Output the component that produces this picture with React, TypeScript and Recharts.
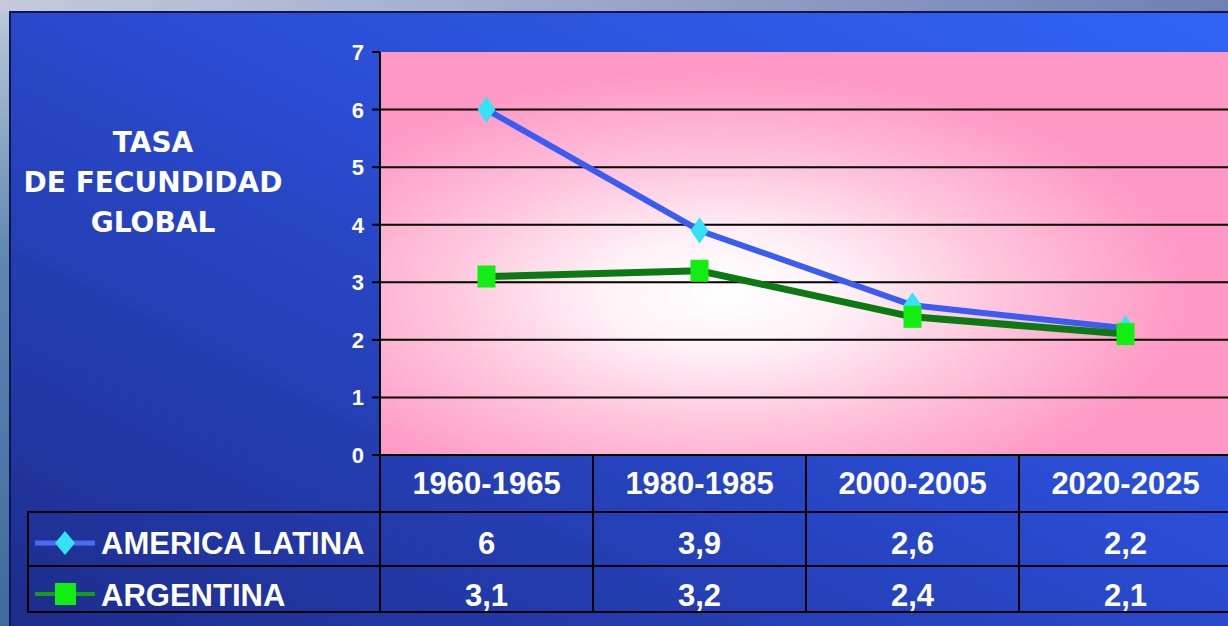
import React from "react";
import {
  LineChart,
  Line,
  XAxis,
  YAxis,
  CartesianGrid,
} from "recharts";

const periods = ["1960-1965", "1980-1985", "2000-2005", "2020-2025"];
const americaLatina = [6, 3.9, 2.6, 2.2];
const argentina = [3.1, 3.2, 2.4, 2.1];
const yTicks = [0, 1, 2, 3, 4, 5, 6, 7];
const gridValues = [1, 2, 3, 4, 5, 6];
const titleLines = ["TASA", "DE FECUNDIDAD", "GLOBAL"];
const seriesNames = ["AMERICA LATINA", "ARGENTINA"];

const data = periods.map((p, i) => ({
  period: p,
  al: americaLatina[i],
  ar: argentina[i],
}));

const W = 1228;
const H = 626;
const CHART_W = 1240;
const MARGIN = { top: 52, right: 8, bottom: 0, left: 0 };
const Y_AXIS_W = 380;
const X_AXIS_H = 171;
const PLOT_W = CHART_W - MARGIN.left - MARGIN.right - Y_AXIS_W;
const BAND = PLOT_W / periods.length;

const FONT = '"Liberation Sans", Arial, sans-serif';
const TITLE_FONT = '"DejaVu Sans", Verdana, sans-serif';
const fmt = (v: number) => String(v).replace(".", ",");

const YTick = (props: any) => {
  const { x, y, payload } = props;
  return (
    <text
      x={x - 6}
      y={y + 8}
      textAnchor="end"
      fill="#ffffff"
      fontSize={22}
      fontWeight="bold"
      fontFamily={FONT}
    >
      {payload.value}
    </text>
  );
};

const cellText = {
  textAnchor: "middle" as const,
  fill: "#ffffff",
  fontSize: 31,
  fontWeight: "bold",
  fontFamily: FONT,
};

const CategoryTick = (props: any) => {
  const { x, y, payload, index } = props;
  return (
    <g>
      <text x={x} y={y + 39} {...cellText}>
        {payload.value}
      </text>
      <text x={x} y={y + 99} {...cellText}>
        {fmt(americaLatina[index])}
      </text>
      <text x={x} y={y + 151} {...cellText}>
        {fmt(argentina[index])}
      </text>
      <line
        x1={x + BAND / 2}
        x2={x + BAND / 2}
        y1={y}
        y2={y + 157}
        stroke="#000000"
        strokeWidth={2}
      />
    </g>
  );
};

const Diamond = (props: any) => {
  const { cx, cy } = props;
  if (cx == null || cy == null) return null;
  return (
    <polygon
      points={`${cx},${cy - 13} ${cx + 9},${cy} ${cx},${cy + 13} ${cx - 9},${cy}`}
      fill="#33e3f3"
    />
  );
};

const Square = (props: any) => {
  const { cx, cy } = props;
  if (cx == null || cy == null) return null;
  return <rect x={cx - 9} y={cy - 11} width={18} height={22} fill="#12ee12" />;
};

export default function App() {
  return (
    <div
      style={{
        position: "absolute",
        left: 0,
        top: 0,
        width: W,
        height: H,
        overflow: "hidden",
        background: "linear-gradient(to right, #c4cadb 0%, #9aa6c8 50%, #6e7fb2 100%)",
      }}
    >
      <div
        style={{
          position: "absolute",
          left: 0,
          top: 12,
          width: 10,
          height: H,
          background: "linear-gradient(to bottom, #b8c8d8, #5f86b0 40%, #3d6a9c 100%)",
        }}
      />
      <div
        style={{
          position: "absolute",
          left: 9,
          top: 11,
          width: W + 20,
          height: H + 20,
          boxSizing: "border-box",
          border: "2px solid #0e1658",
          background: "linear-gradient(to bottom left, #3164f6 0%, #2a4cd2 45%, #1c2b88 100%)",
        }}
      />
      <div style={{ position: "absolute", left: 0, top: 0 }}>
        <LineChart width={CHART_W} height={H} data={data} margin={MARGIN}>
          <defs>
            <radialGradient id="plotBg" cx="0.4" cy="0.6" r="0.55">
              <stop offset="0%" stopColor="#ffffff" />
              <stop offset="25%" stopColor="#fff2f7" />
              <stop offset="60%" stopColor="#ffc4dc" />
              <stop offset="100%" stopColor="#ff98c5" />
            </radialGradient>
          </defs>
          <CartesianGrid
            vertical={false}
            horizontalValues={gridValues}
            stroke="#000000"
            strokeWidth={2}
            strokeOpacity={1}
            fill="url(#plotBg)"
            fillOpacity={1}
          />
          <XAxis
            dataKey="period"
            height={X_AXIS_H}
            padding={{ left: BAND / 2, right: BAND / 2 }}
            axisLine={{ stroke: "#000000", strokeWidth: 2 }}
            tickLine={false}
            tickSize={0}
            tickMargin={0}
            interval={0}
            tick={<CategoryTick />}
          />
          <YAxis
            width={Y_AXIS_W}
            domain={[0, 7]}
            ticks={yTicks}
            interval={0}
            axisLine={{ stroke: "#000000", strokeWidth: 2 }}
            tickLine={{ stroke: "#000000", strokeWidth: 2 }}
            tickSize={8}
            tickMargin={2}
            tick={<YTick />}
          />
          <Line
            dataKey="al"
            stroke="#3b5cf2"
            strokeWidth={6}
            dot={<Diamond />}
            isAnimationActive={false}
          />
          <Line
            dataKey="ar"
            stroke="#0b7a12"
            strokeWidth={7}
            dot={<Square />}
            isAnimationActive={false}
          />
        </LineChart>
      </div>
      <svg
        width={W}
        height={H}
        style={{ position: "absolute", left: 0, top: 0, pointerEvents: "none" }}
      >
        {titleLines.map((t, i) => (
          <text
            key={t}
            x={153}
            y={152 + i * 40}
            textAnchor="middle"
            fill="#ffffff"
            fontSize={28}
            fontWeight="bold"
            fontFamily={TITLE_FONT}
          >
            {t}
          </text>
        ))}
        <line x1={27} x2={W} y1={512} y2={512} stroke="#000000" strokeWidth={2} />
        <line x1={27} x2={W} y1={566} y2={566} stroke="#000000" strokeWidth={2} />
        <line x1={27} x2={W} y1={612} y2={612} stroke="#000000" strokeWidth={2} />
        <line x1={28} x2={28} y1={512} y2={612} stroke="#000000" strokeWidth={2} />
        <line x1={380} x2={380} y1={455} y2={612} stroke="#000000" strokeWidth={2} />
        <line x1={35} x2={95} y1={543} y2={543} stroke="#4a6cf4" strokeWidth={5} />
        <polygon points="65,531 75,543 65,555 55,543" fill="#33e3f3" />
        <line x1={35} x2={95} y1={594} y2={594} stroke="#12a012" strokeWidth={4} />
        <rect x={55} y={583} width={21} height={22} fill="#12ee12" />
        <text x={101} y={554} fill="#ffffff" fontSize={31} fontWeight="bold" fontFamily={FONT}>
          {seriesNames[0]}
        </text>
        <text x={101} y={606} fill="#ffffff" fontSize={31} fontWeight="bold" fontFamily={FONT}>
          {seriesNames[1]}
        </text>
      </svg>
    </div>
  );
}
